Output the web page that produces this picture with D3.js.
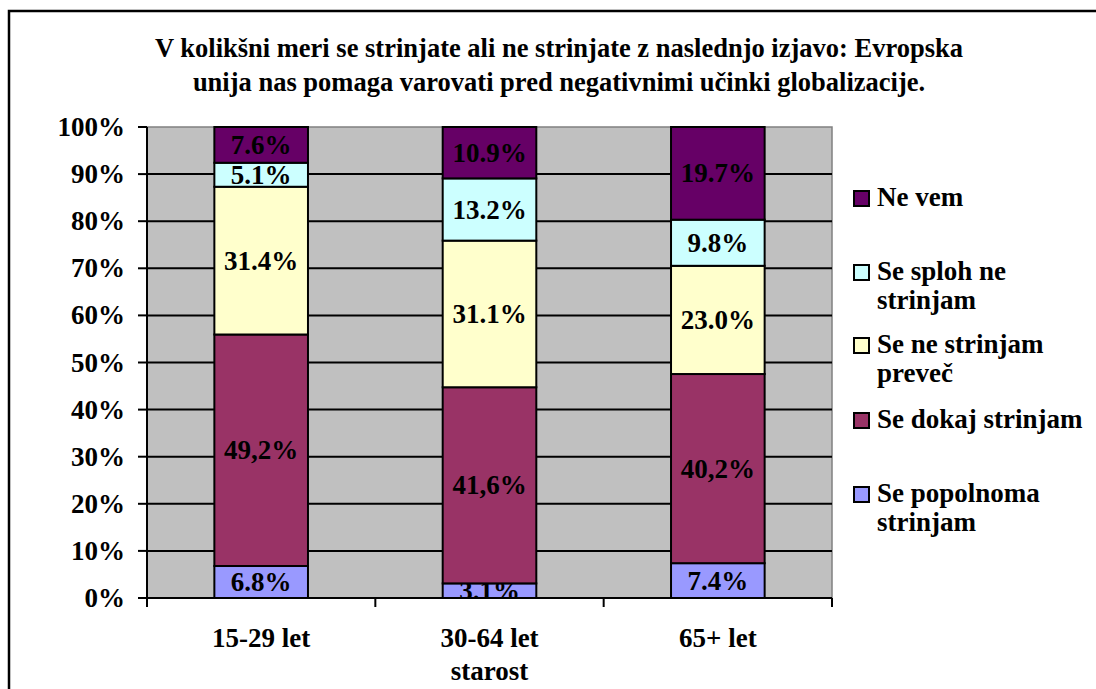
<!DOCTYPE html>
<html>
<head>
<meta charset="utf-8">
<script src="https://cdn.jsdelivr.net/npm/d3@7"></script>
<style>
  body { margin: 0; background: #fff; }
  text { font-family: 'Liberation Serif', 'Times New Roman', 'DejaVu Serif', serif; font-weight: 700; }
</style>
</head>
<body>
<svg id="chart" width="1096" height="689"></svg>
<script>
// data
const categories = ["15-29 let", "30-64 let", "65+ let"];
const seriesNames = ["Se popolnoma strinjam", "Se dokaj strinjam", "Se ne strinjam preveč", "Se sploh ne strinjam", "Ne vem"];
const seriesColors = ["#9999FF", "#993366", "#FFFFCC", "#CCFFFF", "#660066"];
const popolnoma = [6.8, 3.1, 7.4];
const dokaj = [49.2, 41.6, 40.2];
const nePreve = [31.4, 31.1, 23.0];
const splohNe = [5.1, 13.2, 9.8];
const neVem = [7.6, 10.9, 19.7];
// labels as printed (decimal mark differs in the source)
const labelText = [
  ["6.8%", "3.1%", "7.4%"],
  ["49,2%", "41,6%", "40,2%"],
  ["31.4%", "31.1%", "23.0%"],
  ["5.1%", "13.2%", "9.8%"],
  ["7.6%", "10.9%", "19.7%"],
];
const yTicks = [0, 10, 20, 30, 40, 50, 60, 70, 80, 90, 100];
const legendLines = [
  ["Ne vem"],
  ["Se sploh ne", "strinjam"],
  ["Se ne strinjam", "preveč"],
  ["Se dokaj strinjam"],
  ["Se popolnoma", "strinjam"],
];

const svg = d3.select("#chart");
const plot = { left: 147, right: 832, top: 127, bottom: 598 };
const fs = "27px";

// outer frame (runs off right/bottom)
svg.append("rect")
  .attr("x", 9).attr("y", 11).attr("width", 1100).attr("height", 700)
  .attr("fill", "#fff").attr("stroke", "#000").attr("stroke-width", 2.5);

// title
const title = svg.append("text").attr("text-anchor", "middle").style("font-size", "26.5px");
title.append("tspan").attr("x", 559).attr("y", 57)
  .text("V kolikšni meri se strinjate ali ne strinjate z naslednjo izjavo: Evropska");
title.append("tspan").attr("x", 559).attr("y", 91)
  .text("unija nas pomaga varovati pred negativnimi učinki globalizacije.");

const x = d3.scaleBand().domain(categories).range([plot.left, plot.right]).paddingInner(0.59).paddingOuter(0.295);
const y = d3.scaleLinear().domain([0, 100]).range([plot.bottom, plot.top]);

svg.append("rect")
  .attr("x", plot.left).attr("y", plot.top)
  .attr("width", plot.right - plot.left).attr("height", plot.bottom - plot.top)
  .attr("fill", "#C0C0C0").attr("stroke", "#808080").attr("stroke-width", 1.5);

// gridlines
svg.append("g").selectAll("line").data(yTicks.filter(t => t > 0 && t < 100)).join("line")
  .attr("x1", plot.left).attr("x2", plot.right)
  .attr("y1", d => y(d)).attr("y2", d => y(d))
  .attr("stroke", "#000").attr("stroke-width", 2);

// stack data, normalised like a 100% stacked chart
const rows = categories.map((c, i) => {
  const vals = [popolnoma[i], dokaj[i], nePreve[i], splohNe[i], neVem[i]];
  const total = d3.sum(vals);
  const r = { cat: c };
  seriesNames.forEach((s, k) => r[s] = vals[k] / total * 100);
  return r;
});
const stacked = d3.stack().keys(seriesNames)(rows);

svg.append("defs").append("clipPath").attr("id", "clip")
  .append("rect").attr("x", plot.left).attr("y", plot.top - 2)
  .attr("width", plot.right - plot.left).attr("height", plot.bottom - plot.top + 2);

const bars = svg.append("g").attr("clip-path", "url(#clip)");
stacked.forEach((layer, k) => {
  const g = bars.append("g");
  g.selectAll("rect").data(layer).join("rect")
    .attr("x", d => x(d.data.cat)).attr("width", x.bandwidth())
    .attr("y", d => y(d[1])).attr("height", d => y(d[0]) - y(d[1]))
    .attr("fill", seriesColors[k]).attr("stroke", "#000").attr("stroke-width", 2);
  g.selectAll("text").data(layer).join("text")
    .attr("x", d => x(d.data.cat) + x.bandwidth() / 2)
    .attr("y", d => (y(d[0]) + y(d[1])) / 2 + 9)
    .attr("text-anchor", "middle").style("font-size", fs).attr("fill", "#000")
    .text((d, i) => labelText[k][i]);
});

// axes
const yAxis = svg.append("g");
yAxis.append("line").attr("x1", plot.left).attr("x2", plot.left)
  .attr("y1", plot.top).attr("y2", plot.bottom).attr("stroke", "#000").attr("stroke-width", 2);
yAxis.selectAll("line.tick").data(yTicks).join("line").attr("class", "tick")
  .attr("x1", plot.left - 9).attr("x2", plot.left)
  .attr("y1", d => y(d)).attr("y2", d => y(d)).attr("stroke", "#000").attr("stroke-width", 2);
yAxis.selectAll("text").data(yTicks).join("text")
  .attr("x", 125).attr("y", d => y(d) + 9).attr("text-anchor", "end")
  .style("font-size", fs).text(d => d + "%");

const xAxis = svg.append("g");
xAxis.append("line").attr("x1", plot.left).attr("x2", plot.right)
  .attr("y1", plot.bottom).attr("y2", plot.bottom).attr("stroke", "#000").attr("stroke-width", 2);
const edges = categories.map(c => x(c) - x.step() * x.paddingInner() / 2).concat([plot.right]);
edges[0] = plot.left;
xAxis.selectAll("line.tick").data(edges).join("line").attr("class", "tick")
  .attr("x1", d => d).attr("x2", d => d)
  .attr("y1", plot.bottom).attr("y2", plot.bottom + 9).attr("stroke", "#000").attr("stroke-width", 2);
xAxis.selectAll("text").data(categories).join("text")
  .attr("x", d => x(d) + x.bandwidth() / 2).attr("y", 647)
  .attr("text-anchor", "middle").style("font-size", fs).text(d => d);
svg.append("text").attr("x", x(categories[1]) + x.bandwidth() / 2).attr("y", 680)
  .attr("text-anchor", "middle").style("font-size", fs).text("starost");

// legend, top entry first
const legendY = [206, 280, 353, 428, 502];
const legend = svg.append("g");
legendLines.forEach((lines, j) => {
  const k = seriesNames.length - 1 - j;
  legend.append("rect").attr("x", 854).attr("y", legendY[j] - 15)
    .attr("width", 15).attr("height", 15)
    .attr("fill", seriesColors[k]).attr("stroke", "#000").attr("stroke-width", 2);
  const t = legend.append("text").style("font-size", fs);
  lines.forEach((ln, m) => {
    t.append("tspan").attr("x", 877).attr("y", legendY[j] + m * 29).text(ln);
  });
});
</script>
</body>
</html>
